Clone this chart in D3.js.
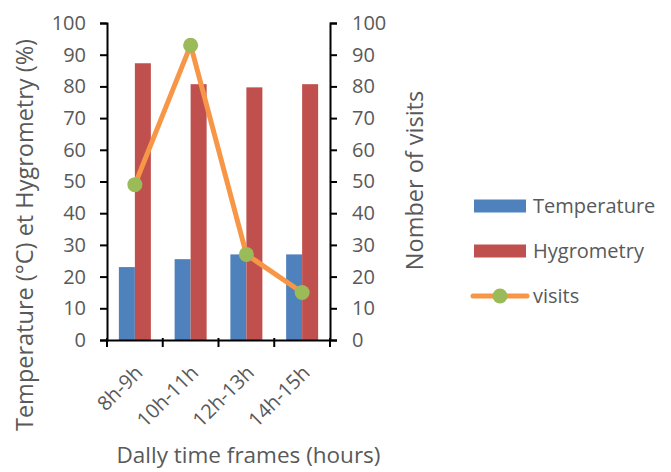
<!DOCTYPE html>
<html><head><meta charset="utf-8">
<script src="https://cdn.jsdelivr.net/npm/d3@7"></script>
<style>body{margin:0;background:#fff}svg{display:block}text{font-family:"Open Sans",sans-serif;fill:#595959}</style>
</head><body><svg id="c" width="671" height="472"></svg>
<script>
const categories = ["8h-9h","10h-11h","12h-13h","14h-15h"];
const temperature = [23, 25.5, 27, 27];
const hygrometry = [87.3, 80.7, 79.7, 80.7];
const visits = [49, 93, 27, 15];
const yTicks = [0,10,20,30,40,50,60,70,80,90,100];
const seriesNames = ["Temperature","Hygrometry","visits"];
const colors = {Temperature:"#4F81BD", Hygrometry:"#C0504D", line:"#F79646", marker:"#9BBB59"};

(function(){
const svg = d3.select("#c");
const pL = 107, pR = 330, pT = 23, pB = 340;
const x = d3.scaleBand().domain(categories).range([pL, pR]).paddingInner(0).paddingOuter(0);
const y = d3.scaleLinear().domain([0,100]).range([pB, pT]);
const y2 = d3.scaleLinear().domain([0,100]).range([pB, pT]);
const bw = 16;

const fs = "20px";
const gl = svg.append("g").attr("transform",`translate(${pL},0)`)
  .call(d3.axisLeft(y).tickValues(yTicks).tickSize(7).tickPadding(14));
const gr = svg.append("g").attr("transform",`translate(${pR},0)`)
  .call(d3.axisRight(y2).tickValues(yTicks).tickSize(7).tickPadding(15));
[gl,gr].forEach(g=>{
  g.select(".domain").attr("stroke","#000").attr("stroke-width",2);
  g.selectAll(".tick line").attr("stroke","#000").attr("stroke-width",2);
  g.selectAll(".tick text").style("font-size",fs).attr("fill","#595959");
});

const gb = svg.append("g");
gb.selectAll("rect.t").data(categories).join("rect").attr("class","t")
  .attr("x", d=>x(d)+x.bandwidth()/2-bw).attr("width",bw)
  .attr("y",(d,i)=>y(temperature[i])).attr("height",(d,i)=>y(0)-y(temperature[i]))
  .attr("fill",colors.Temperature);
gb.selectAll("rect.h").data(categories).join("rect").attr("class","h")
  .attr("x", d=>x(d)+x.bandwidth()/2).attr("width",bw)
  .attr("y",(d,i)=>y(hygrometry[i])).attr("height",(d,i)=>y(0)-y(hygrometry[i]))
  .attr("fill",colors.Hygrometry);

const gx = svg.append("g").attr("transform",`translate(0,${pB})`)
  .call(d3.axisBottom(x).tickSize(0).tickFormat(""));
gx.select(".domain").attr("stroke","#000").attr("stroke-width",2);
const bounds = categories.map(c=>x(c)).concat([pR]);
svg.append("g").selectAll("line").data(bounds).join("line")
  .attr("x1",d=>d).attr("x2",d=>d).attr("y1",pB-2).attr("y2",pB+7)
  .attr("stroke","#000").attr("stroke-width",2);
svg.append("g").selectAll("text").data(categories).join("text")
  .attr("transform",d=>`translate(${x(d)+x.bandwidth()/2+4},${pB+29}) rotate(-45)`)
  .attr("text-anchor","end").attr("dy","0.35em").style("font-size",fs).text(d=>d);

const line = d3.line().x((d,i)=>x(categories[i])+x.bandwidth()/2).y(d=>y2(d));
svg.append("path").datum(visits).attr("d",line).attr("fill","none")
  .attr("stroke",colors.line).attr("stroke-width",5).attr("stroke-linejoin","round");
svg.append("g").selectAll("circle").data(visits).join("circle")
  .attr("cx",(d,i)=>x(categories[i])+x.bandwidth()/2).attr("cy",d=>y2(d)).attr("r",7.5)
  .attr("fill",colors.marker);

svg.append("text").attr("transform",`translate(33,235) rotate(-90)`)
  .attr("text-anchor","middle").style("font-size","23.5px").text("Temperature (°C) et Hygrometry (%)");
svg.append("text").attr("transform",`translate(423,180.5) rotate(-90)`)
  .attr("text-anchor","middle").style("font-size","23.5px").text("Nomber of visits");
svg.append("text").attr("x",248.5).attr("y",463)
  .attr("text-anchor","middle").style("font-size","22.5px").text("Dally time frames (hours)");

const lg = svg.append("g");
const ly = [206, 251, 296];
lg.append("rect").attr("x",474).attr("y",ly[0]-6.5).attr("width",52).attr("height",13).attr("fill",colors.Temperature);
lg.append("rect").attr("x",474).attr("y",ly[1]-6.5).attr("width",52).attr("height",13).attr("fill",colors.Hygrometry);
lg.append("line").attr("x1",473).attr("x2",527).attr("y1",ly[2]).attr("y2",ly[2])
  .attr("stroke",colors.line).attr("stroke-width",5).attr("stroke-linecap","round");
lg.append("circle").attr("cx",500).attr("cy",ly[2]).attr("r",7.5).attr("fill",colors.marker);
lg.selectAll("text").data(seriesNames).join("text")
  .attr("x",533).attr("y",(d,i)=>ly[i]).attr("dy","0.35em").style("font-size",fs).text(d=>d);
})();
</script></body></html>
